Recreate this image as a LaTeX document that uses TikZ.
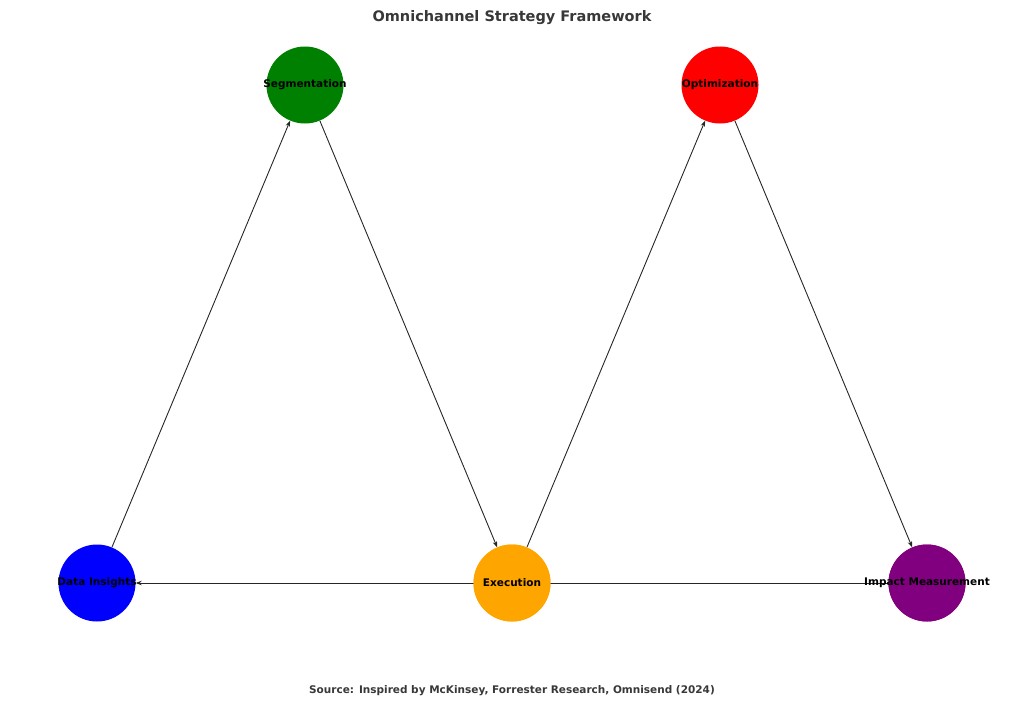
\documentclass[tikz,border=0pt]{standalone}
\usepackage{fontspec}
\setmainfont{DejaVu Sans}
\usetikzlibrary{arrows.meta}
\pgfdeclarelayer{bg}
\pgfsetlayers{bg,main}
\begin{document}
\begin{tikzpicture}[x=1pt,y=-1pt,
  dot/.style={circle,draw=none,minimum size=77pt,inner sep=0pt},
  lab/.style={font=\bfseries\fontsize{10.5}{12}\selectfont,text=black},
  edge/.style={draw=black!85,line width=0.9pt,-{Stealth[length=6pt,width=4.5pt]}}]
\useasboundingbox (0,0) rectangle (1024,709);
\node[dot,fill=blue] (d) at (97,583) {};
\node[dot,fill=green!50!black] (s) at (305,85) {};
\node[dot,fill=orange!70!yellow] (e) at (512,583) {};
\node[dot,fill=red] (o) at (720,85) {};
\node[dot,fill=violet!50!purple] (i) at (927,583) {};
\definecolor{im}{RGB}{128,0,128}\definecolor{ex}{RGB}{255,165,0}
\node[dot,fill=ex] at (e) {};\node[dot,fill=im] at (i) {};
\begin{pgfonlayer}{bg}
\draw[edge] (d) -- (s);
\draw[edge] (s) -- (e);
\draw[edge] (e) -- (o);
\draw[edge] (o) -- (i);
\draw[edge] (i) -- (d);
\end{pgfonlayer}
\node[lab] (ld) at (d) {Data Insights};
\node[lab] (ls) at (s) {Segmentation};
\node[lab] (le) at (e) {Execution};
\node[lab] (lo) at (o) {Optimization};
\node[lab] (li) at (i) {Impact Measurement};
\node[font=\bfseries\fontsize{14.5}{16}\selectfont,text=black!78] (t) at (512,18) {Omnichannel Strategy Framework};
\node[font=\bfseries\fontsize{10.5}{12}\selectfont,text=black!78] (src) at (512,691) {Source: Inspired by McKinsey, Forrester Research, Omnisend (2024)};
\end{tikzpicture}
\end{document}
